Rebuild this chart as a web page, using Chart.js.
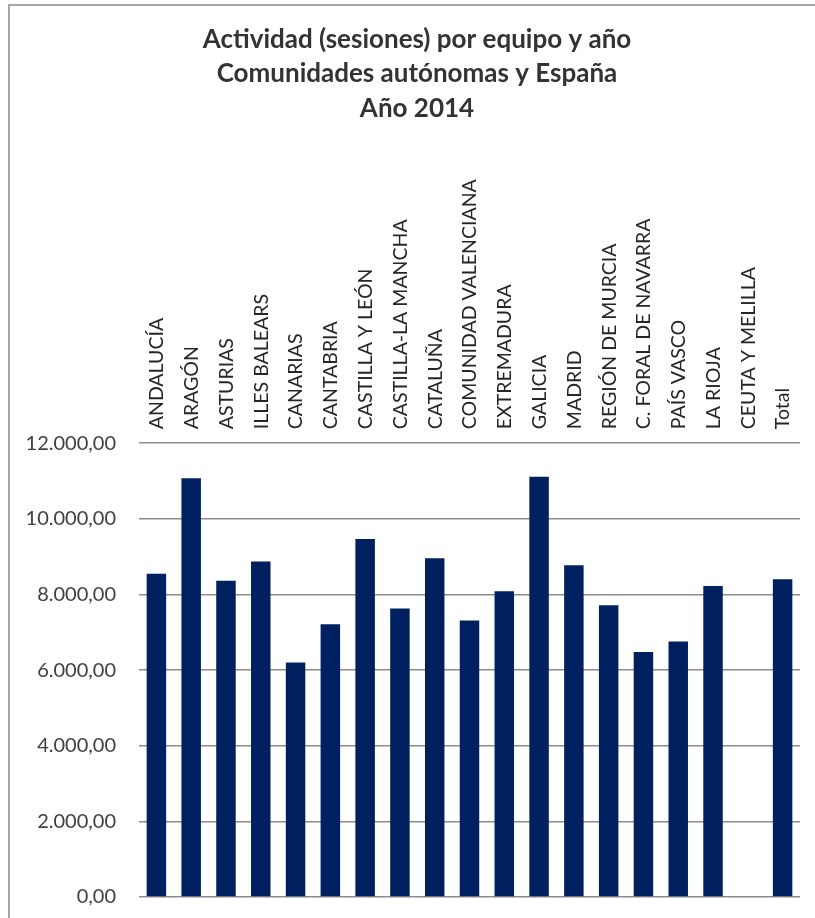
<!DOCTYPE html>
<html>
<head>
<meta charset="utf-8">
<script src="https://cdn.jsdelivr.net/npm/chart.js@4.4.1/dist/chart.umd.min.js"></script>
<style>
  html, body { margin: 0; padding: 0; background: #fff; overflow: hidden; }
  #wrap { position: relative; width: 815px; height: 918px; }
  #frame { position: absolute; left: 8px; top: 4px; width: 900px; height: 1000px;
           border-top: 2px solid #a6a6a6; border-left: 2px solid #a6a6a6; }
  canvas { position: absolute; left: 0; top: 0; }
</style>
</head>
<body>
<div id="wrap">
  <div id="frame"></div>
  <canvas id="chart" width="815" height="918"></canvas>
</div>
<script>
// Categories (comunidades autónomas + total)
const regions = [
  'ANDALUCÍA', 'ARAGÓN', 'ASTURIAS', 'ILLES BALEARS', 'CANARIAS', 'CANTABRIA',
  'CASTILLA Y LEÓN', 'CASTILLA-LA MANCHA', 'CATALUÑA', 'COMUNIDAD VALENCIANA',
  'EXTREMADURA', 'GALICIA', 'MADRID', 'REGIÓN DE MURCIA', 'C. FORAL DE NAVARRA',
  'PAÍS VASCO', 'LA RIOJA', 'CEUTA Y MELILLA', 'Total'
];

// Sesiones por equipo, año 2014
const sessions = [
  8545, 11070, 8360, 8870, 6200, 7215,
  9465, 7630, 8960, 7310,
  8085, 11110, 8775, 7715, 6480,
  6755, 8225, null, 8405
];

const titleLines = [
  'Actividad (sesiones) por equipo y año',
  'Comunidades autónomas y España',
  'Año 2014'
];

const yMin = 0;
const yMax = 12000;
const yStep = 2000;

// 12000 -> "12.000,00"
function formatEs(v) {
  const parts = v.toFixed(2).split('.');
  const intPart = parts[0].replace(/\B(?=(\d{3})+(?!\d))/g, '.');
  return intPart + ',' + parts[1];
}

// the original title is centred a bit right of the canvas middle
const shiftTitle = {
  id: 'shiftTitle',
  afterLayout(chart) {
    if (chart.titleBlock) {
      chart.titleBlock.left = 34;
      chart.titleBlock.right = 800;
    }
  }
};

const ctx = document.getElementById('chart').getContext('2d');
const chart = new Chart(ctx, {
  type: 'bar',
  data: {
    labels: regions,
    datasets: [{
      label: 'Sesiones',
      data: sessions,
      backgroundColor: '#00205f',
      borderWidth: 0,
      categoryPercentage: 1,
      barPercentage: 0.56
    }]
  },
  options: {
    responsive: false,
    animation: false,
    layout: {
      padding: { left: 0, right: 15, top: 0, bottom: 21 }
    },
    plugins: {
      legend: { display: false },
      tooltip: { enabled: false },
      title: {
        display: true,
        text: titleLines,
        color: '#333333',
        font: { family: 'Lato', size: 26, weight: 'bold', lineHeight: 1.31 },
        padding: { top: 23, bottom: 0 }
      }
    },
    scales: {
      x: {
        position: 'top',
        grid: { display: false, drawTicks: false },
        border: { display: false },
        ticks: {
          autoSkip: false,
          minRotation: 90,
          maxRotation: 90,
          padding: 14,
          labelOffset: 24,
          color: '#262626',
          font: { family: 'Lato', size: 19.5 }
        },
        afterFit: function(scale) {
          scale.height = 318;
        }
      },
      y: {
        min: yMin,
        max: yMax,
        border: { display: false },
        grid: { color: '#8c8c8c', lineWidth: 1.5, drawTicks: false },
        ticks: {
          stepSize: yStep,
          padding: 23,
          color: '#404040',
          font: { family: 'Lato', size: 20 },
          callback: function(value) {
            return formatEs(value);
          }
        },
        afterFit: function(scale) {
          scale.width = 139;
          // tick padding would otherwise be added below the plot
          scale.paddingTop = 0;
          scale.paddingBottom = 0;
        }
      }
    }
  },
  plugins: [shiftTitle]
});
</script>
</body>
</html>
